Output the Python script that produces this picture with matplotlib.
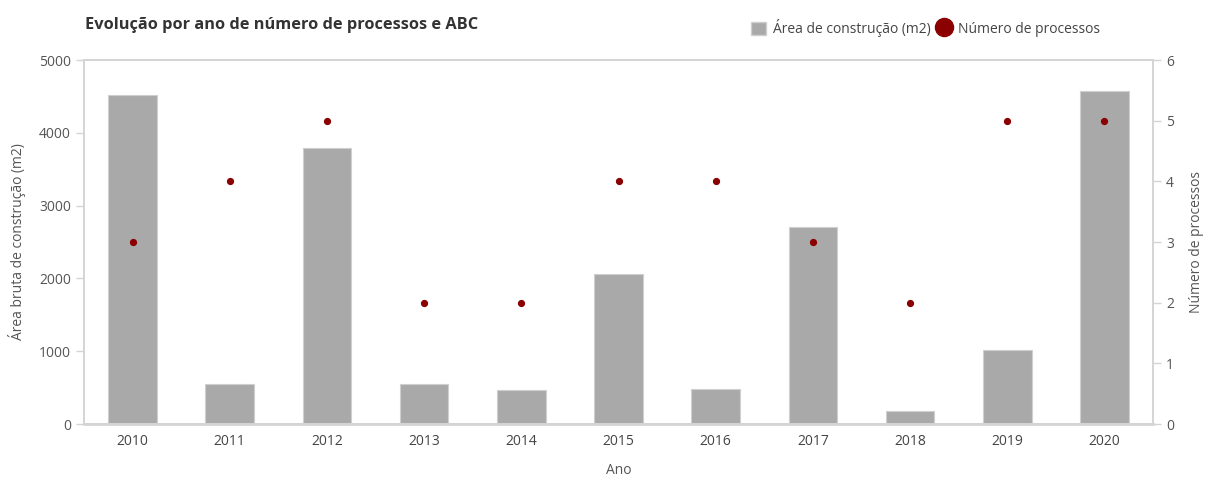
import matplotlib
matplotlib.use("Agg")
import matplotlib.pyplot as plt
from matplotlib.lines import Line2D
from matplotlib.patches import Patch

anos = ["2010", "2011", "2012", "2013", "2014", "2015", "2016", "2017", "2018", "2019", "2020"]
area_construcao = [4520, 550, 3790, 550, 470, 2060, 480, 2700, 180, 1020, 4570]
numero_processos = [3, 4, 5, 2, 2, 4, 4, 3, 2, 5, 5]

plt.rcParams["font.family"] = ["Open Sans", "DejaVu Sans"]

BAR = "#a9a9a9"
DOT = "#8b0000"
AXIS = "#d4d4d4"
TXT = "#555555"

fig = plt.figure(figsize=(12.05, 4.79), dpi=100)
ax = fig.add_axes([84 / 1205, 1 - 424 / 479, (1153 - 84) / 1205, (424 - 60) / 479])
ax2 = ax.twinx()

x = list(range(len(anos)))
ax.bar(x, area_construcao, width=0.5, color=BAR, edgecolor="#cfcfcf", linewidth=0.8, zorder=2)
ax2.plot(x, numero_processos, linestyle="none", marker="o", markersize=4.2,
         color=DOT, zorder=3)

ax.set_xlim(-0.5, len(anos) - 0.5)
ax.set_ylim(0, 5000)
ax2.set_ylim(0, 6)
ax.set_yticks(range(0, 5001, 1000))
ax2.set_yticks(range(0, 7))
ax.set_xticks(x)
ax.set_xticklabels(anos)

for a in (ax, ax2):
    for s in a.spines.values():
        s.set_color(AXIS)
        s.set_linewidth(1.2)
    a.tick_params(axis="y", colors=AXIS, labelcolor=TXT, labelsize=10, length=6, width=1)
ax.tick_params(axis="x", length=0, labelcolor="#444444", labelsize=10, pad=7)
ax.spines["bottom"].set_linewidth(2.0)

ax.set_ylabel("Área bruta de construção (m2)", color=TXT, fontsize=10, labelpad=9)
ax2.set_ylabel("Número de processos", color=TXT, fontsize=10, labelpad=11)
ax.set_xlabel("Ano", color=TXT, fontsize=10)
ax.xaxis.set_label_coords(0.5, -0.106)

fig.text(85 / 1205, 1 - 25 / 479, "Evolução por ano de número de processos e ABC",
         fontsize=11.8, fontweight="bold", color="#333333", va="center", ha="left")

handles = [Patch(facecolor=BAR, edgecolor="#cfcfcf"),
           Line2D([], [], linestyle="none", marker="o", markersize=13, color=DOT)]
fig.legend(handles, ["Área de construção (m2)", "Número de processos"],
           loc="center right", bbox_to_anchor=(1113 / 1205, 1 - 28 / 479), ncol=2,
           frameon=False, fontsize=10, handlelength=1.1, handleheight=1.1,
           handletextpad=0.5, columnspacing=0.4, labelcolor="#444444")

fig.savefig("out.png", dpi=100)
